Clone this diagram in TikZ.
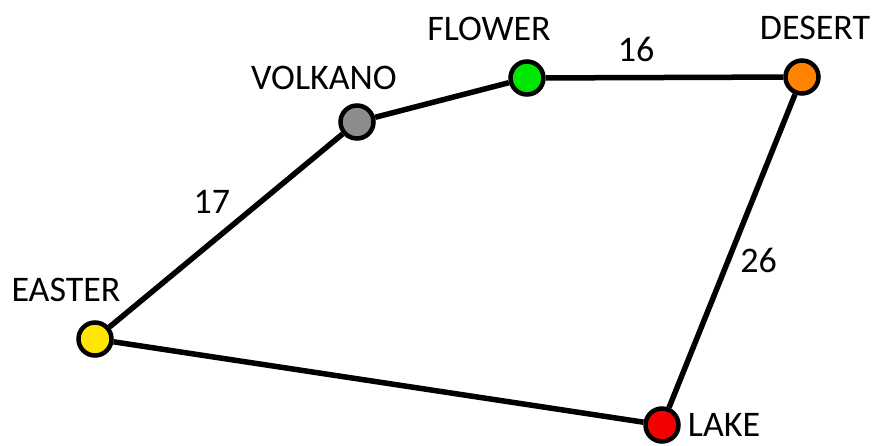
\documentclass[tikz,border=0pt]{standalone}
\usepackage{fontspec}
\setmainfont{Carlito}
\usetikzlibrary{positioning}
\definecolor{easter}{RGB}{255,230,0}
\definecolor{volkano}{RGB}{140,140,140}
\definecolor{flower}{RGB}{0,230,0}
\definecolor{desert}{RGB}{255,130,0}
\definecolor{lake}{RGB}{245,0,0}

\begin{document}
\begin{tikzpicture}[x=1pt,y=-1pt,every node/.style={font=\fontsize{36}{42}\selectfont},
  city/.style={circle,draw=black,line width=4.5pt,minimum size=33pt,inner sep=0pt},
  road/.style={line width=5.5pt}]
\useasboundingbox (0,0) rectangle (874,446);
\node[city,fill=easter] (easter) at (95,339) {};
\node[city,fill=volkano] (volkano) at (357,122) {};
\node[city,fill=flower] (flower) at (527,78) {};
\node[city,fill=desert] (desert) at (802,77) {};
\node[city,fill=lake] (lake) at (662,425) {};
\node (leaster) at (66,290) {EASTER};
\node (lvolkano) at (324,78) {VOLKANO};
\node (lflower) at (489,29) {FLOWER};
\node (ldesert) at (815,28) {DESERT};
\node (llake) at (724,425) {LAKE};
\draw[road] (easter)--node[pos=0.55,above left=2pt]{17}(volkano);
\draw[road] (volkano)--(flower);
\draw[road] (flower)--node[pos=0.38,above=10pt]{16}(desert);
\draw[road] (desert)--node[pos=0.53,right=6pt]{26}(lake);
\draw[road] (easter)--(lake);
\end{tikzpicture}
\end{document}
